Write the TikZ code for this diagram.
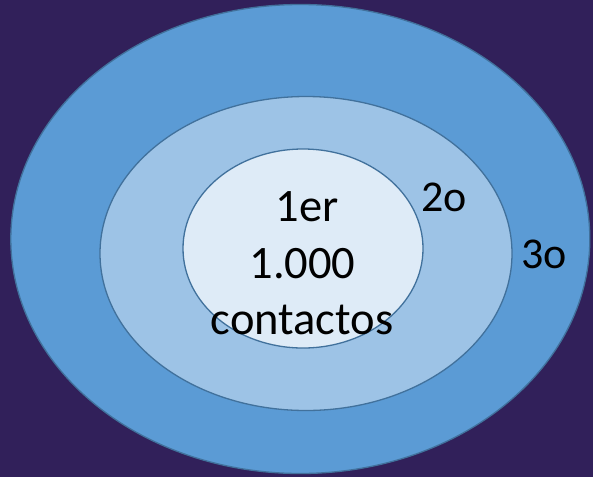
\documentclass[tikz,border=0pt]{standalone}
\usepackage{fontspec}
\setmainfont{Carlito}
\usetikzlibrary{shapes.geometric}
\definecolor{bgpurple}{HTML}{31205A}
\definecolor{ringout}{HTML}{5B9BD5}
\definecolor{ringmid}{HTML}{9DC3E6}
\definecolor{ringin}{HTML}{DEEBF7}
\definecolor{ringline}{HTML}{41719C}
\tikzset{
  ring/.style={ellipse, draw=ringline, line width=1.3pt, inner sep=0pt},
  bigtext/.style={font=\fontsize{46.5}{56}\selectfont, text=black, inner sep=0pt},
  labeltext/.style={font=\fontsize{44}{52}\selectfont, text=black, inner sep=0pt}
}
\begin{document}
\begin{tikzpicture}[x=1pt,y=-1pt]
\fill[bgpurple] (0,0) rectangle (593,477);
\useasboundingbox (0,0) rectangle (593,477);
\node[ring, fill=ringout, minimum width=579pt, minimum height=469pt] (outer) at (300.3,239) {};
\node[ring, fill=ringmid, minimum width=412pt, minimum height=314pt] (middle) at (306,253.5) {};
\node[ring, fill=ringin, minimum width=240pt, minimum height=199pt] (inner) at (303,248.5) {};
\node[bigtext, anchor=base] (l1) at (307,221.7) {1er};
\node[bigtext, anchor=base] (l2) at (302.5,278.3) {1.000};
\node[bigtext, anchor=base] (l3) at (302,334.5) {contactos};
\node[labeltext, anchor=base west] (two) at (421,211.7) {2o};
\node[labeltext, anchor=base west] (three) at (521,268.3) {3o};
\end{tikzpicture}
\end{document}
